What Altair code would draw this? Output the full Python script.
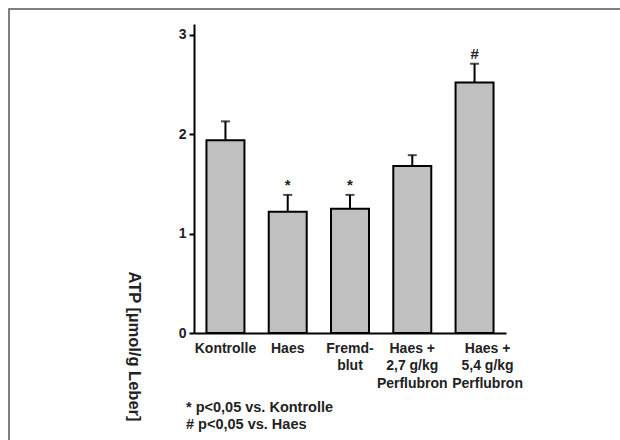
import altair as alt
import pandas as pd

groups = ["Kontrolle", "Haes", "Fremd-|blut", "Haes +|2,7 g/kg|Perflubron", "Haes +|5,4 g/kg|Perflubron"]
means = [1.94, 1.22, 1.25, 1.68, 2.52]
err_top = [2.13, 1.39, 1.39, 1.79, 2.71]
marks = ["", "*", "*", "", "#"]
footnotes = ["* p<0,05 vs. Kontrolle", "# p<0,05 vs. Haes"]

df = pd.DataFrame({"g": groups, "m": means, "e": err_top, "s": marks})
fn = pd.DataFrame({"t": ["|".join(footnotes)]})

FONT = "Liberation Sans"
YTITLE = "ATP [µmol/g Leber]"

x = alt.X("g:N", sort=groups, title=None,
          scale=alt.Scale(paddingInner=0.39, paddingOuter=0.2),
          axis=alt.Axis(labelExpr="split(datum.label, '|')", labelAngle=0,
                        ticks=False, domainColor="black", domainWidth=2,
                        labelFont=FONT, labelFontSize=14, labelFontWeight="bold",
                        labelColor="#222", labelPadding=15, labelLineHeight=17.5,
                        labelBaseline="middle",
                        labelOffset={"expr": "datum.value === '" + groups[-1] + "' ? 13 : 0"}))
y_scale = alt.Scale(domain=[0, 3.11], nice=False)
y_axis = alt.Axis(values=[0, 1, 2, 3], format="d", grid=False,
                  domainColor="black", domainWidth=2,
                  tickColor="black", tickWidth=2, tickSize=5,
                  labelFont=FONT, labelFontSize=14, labelFontWeight="bold",
                  labelColor="#222", labelPadding=3,
                  titleFont=FONT, titleFontSize=16.5, titleFontWeight="bold",
                  titleColor="#222", titleAngle=90, titleX=-61, titleY=322,
                  titleAlign="center", titleBaseline="middle")


def Y(field):
    return alt.Y(field, scale=y_scale, title=YTITLE, axis=y_axis)


base = alt.Chart(df)

stem = base.mark_rule(color="black", strokeWidth=2).encode(
    x=x, y=Y("m:Q"), y2="e:Q")
cap = base.mark_tick(color="black", thickness=2, size=9, orient="horizontal").encode(
    x=x, y=Y("e:Q"))
bars = base.mark_bar(fill="#c0c0c0", stroke="black", strokeWidth=2).encode(
    x=x, y=Y("m:Q"))
sig = base.mark_text(font=FONT, fontSize=15, fontWeight="bold", color="#222",
                     baseline="bottom", dy=-2).encode(
    x=x, y=Y("e:Q"), text="s:N")

foot = alt.Chart(fn).mark_text(font=FONT, fontSize=14.5, fontWeight="bold", color="#222",
                               align="left", baseline="middle", lineBreak="|",
                               lineHeight=17).encode(
    x=alt.value(-8), y=alt.value(384), text="t:N")

frame = alt.Chart(fn).mark_rect(fill="transparent", stroke="#555", strokeWidth=1.5).encode(
    x=alt.value(-185), x2=alt.value(450), y=alt.value(-15), y2=alt.value(440))

chart = alt.layer(frame, stem, cap, bars, sig, foot).properties(
    width=312, height=309,
    autosize=alt.AutoSizeParams(type="none"),
    padding={"left": 194, "top": 24, "right": 114, "bottom": 107},
).configure_view(stroke=None).configure_axis(
    grid=False, titleFont=FONT, titleFontWeight="bold", titleFontSize=16.5, titleColor="#222")

chart.save("out.html", embed_options={"renderer": "svg", "actions": False})
